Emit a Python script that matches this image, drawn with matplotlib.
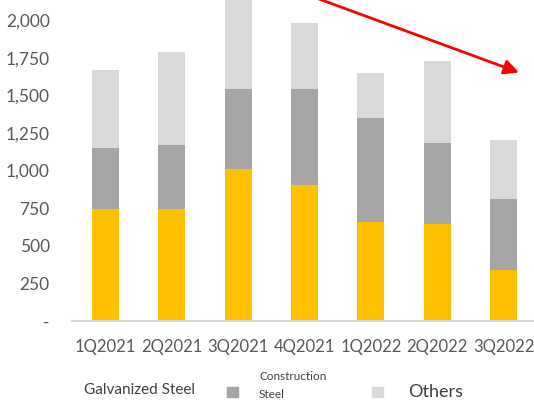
import matplotlib
matplotlib.use("Agg")
import matplotlib.pyplot as plt
from matplotlib.patches import Rectangle
from matplotlib.ticker import FuncFormatter

plt.rcParams["font.family"] = ["Lato", "DejaVu Sans"]

quarters = ["1Q2021", "2Q2021", "3Q2021", "4Q2021", "1Q2022", "2Q2022", "3Q2022"]
galvanized = [745, 745, 1010, 905, 661, 648, 337]
construction = [405, 427, 533, 634, 689, 533, 473]
others = [515, 616, 640, 444, 298, 547, 391]

YELLOW, GRAY, LIGHT = "#FFC000", "#A5A5A5", "#D9D9D9"
TXT = "#595959"

fig = plt.figure(figsize=(5.34, 4.0), dpi=100)
ax = fig.add_axes([72 / 534, 79 / 400, 465 / 534, 331 / 400])

x = range(len(quarters))
w = 0.406
base2 = [g + c for g, c in zip(galvanized, construction)]
ax.bar(x, galvanized, w, color=YELLOW)
ax.bar(x, construction, w, bottom=galvanized, color=GRAY)
ax.bar(x, others, w, bottom=base2, color=LIGHT)

ax.set_xlim(-0.5, 6.5)
ax.set_ylim(0, 2200)
ax.set_yticks(range(0, 2001, 250))
ax.yaxis.set_major_formatter(FuncFormatter(lambda v, p: "-" if v == 0 else f"{int(v):,}"))
ax.set_xticks(list(x))
ax.set_xticklabels(quarters)
ax.tick_params(axis="both", length=0, colors=TXT, labelsize=12.5)
ax.tick_params(axis="x", pad=13, labelsize=12)
ax.tick_params(axis="y", pad=16)
for s in ["top", "right", "left"]:
    ax.spines[s].set_visible(False)
ax.spines["bottom"].set_color(LIGHT)
ax.spines["bottom"].set_linewidth(1.5)

# trend arrow
ax.annotate("", xy=(519 / 534, 1 - 72.5 / 400), xycoords="figure fraction",
            xytext=(300 / 534, 1 + 8 / 400), textcoords="figure fraction",
            arrowprops=dict(arrowstyle="-|>", color="#FF0000", lw=2,
                            mutation_scale=22, shrinkA=0, shrinkB=0))

# legend drawn by hand
fig.text(84 / 534, 1 - 390 / 400, "Galvanized Steel", fontsize=11, color="#404040", va="center")
fig.patches.append(Rectangle((227 / 534, 1 - 397 / 400), 11 / 534, 10 / 400,
                             transform=fig.transFigure, color=GRAY))
fig.text(259 / 534, 1 - 377 / 400, "Construction", fontsize=8.5, color="#404040", va="center")
fig.text(259 / 534, 1 - 389 / 400, "Steel", fontsize=8.5, color="#404040", va="top")
fig.patches.append(Rectangle((372 / 534, 1 - 397 / 400), 11 / 534, 10 / 400,
                             transform=fig.transFigure, color=LIGHT))
fig.text(408 / 534, 1 - 392 / 400, "Others", fontsize=13, color="#404040", va="center")

fig.savefig("out.png", dpi=100)
